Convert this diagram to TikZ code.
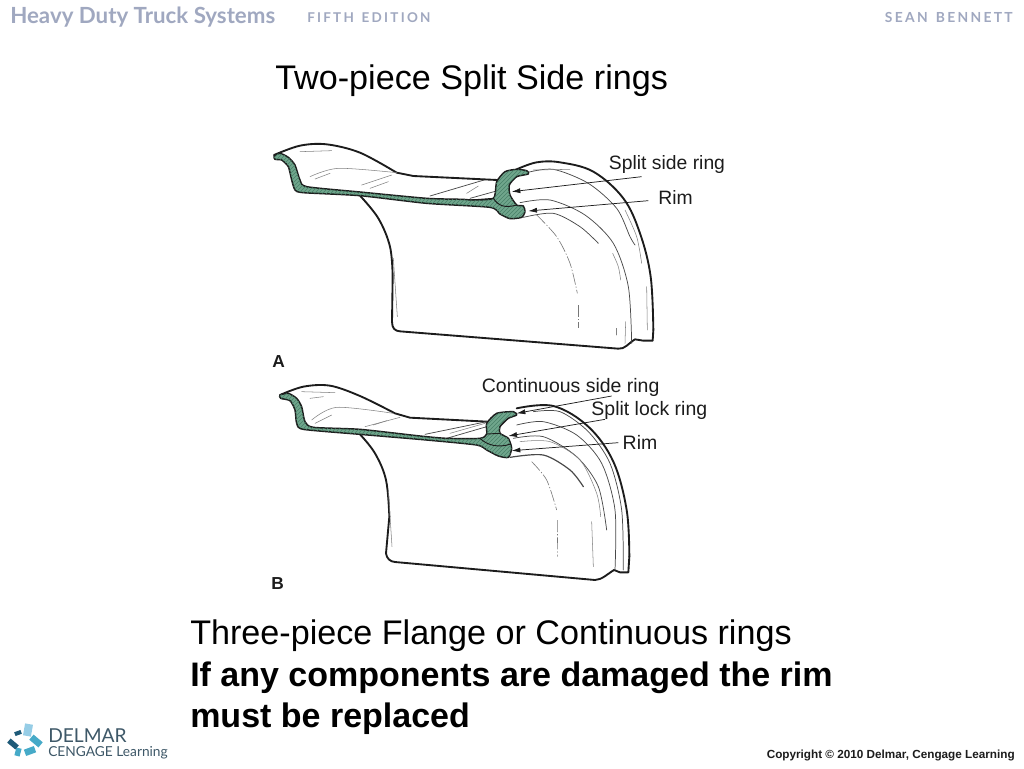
\documentclass[tikz,border=0pt]{standalone}
\usepackage{fontspec}
\setmainfont{Liberation Sans}
\newfontfamily\headfont{Lato}
\usetikzlibrary{patterns,arrows.meta}
\definecolor{secgreen}{RGB}{112,166,140}
\definecolor{hatchgreen}{RGB}{72,128,104}
\definecolor{inkline}{RGB}{28,28,28}
\definecolor{headblue}{RGB}{160,168,192}
\definecolor{logotext}{RGB}{62,88,104}
\definecolor{logoa}{RGB}{150,205,230}
\definecolor{logob}{RGB}{70,170,200}
\definecolor{logoc}{RGB}{30,90,120}
\tikzset{
  slidetext/.style={anchor=base west,inner sep=0pt,font=\fontsize{25.6}{28}\selectfont,text=black},
  headtext/.style={anchor=base west,inner sep=0pt,text=headblue},
  calltext/.style={anchor=center,inner sep=0pt,font=\fontsize{11}{13}\selectfont,text=inkline},
  partlabel/.style={anchor=center,inner sep=0pt,font=\bfseries\fontsize{10.5}{12}\selectfont,text=inkline},
  outline/.style={draw=inkline,line width=1.4pt,line join=round,line cap=round},
  fineline/.style={draw=inkline!80,line width=0.55pt,line cap=round},
  faintline/.style={draw=inkline!55,line width=0.4pt,line cap=round},
  dashline/.style={draw=inkline!60,line width=0.45pt,dash pattern=on 9pt off 1.5pt on 1pt off 1.5pt},
  section/.style={draw=inkline,line width=1.1pt,line join=round,fill=secgreen,
     postaction={pattern=north east lines,pattern color=hatchgreen}},
  leader/.style={draw=inkline,line width=0.55pt,-{Latex[length=6.5pt,width=3.8pt]}},
  logotile/.style={minimum width=6.5pt,minimum height=4pt,inner sep=0pt,rotate=#1}
}
\begin{document}
\begin{tikzpicture}[x=0.75pt,y=-0.75pt]
\useasboundingbox (0,0) rectangle (1024,768);
\fill[white] (0,0) rectangle (1024,768);
% header
\node[headtext,font=\headfont\bfseries\fontsize{16.7}{18}\selectfont] (booktitle) at (10,23) {Heavy Duty Truck Systems};
\node[headtext,font=\headfont\bfseries\fontsize{10.1}{11}\selectfont] (edition) at (307,22) {F\,I\,F\,T\,H\, \,E\,D\,I\,T\,I\,O\,N};
\node[headtext,font=\headfont\bfseries\fontsize{10.4}{11}\selectfont,anchor=base east] (author) at (1013,22) {S\,E\,A\,N\, \,B\,E\,N\,N\,E\,T\,T};
% slide text
\node[slidetext] (title) at (275,89) {Two-piece Split Side rings};
\node[slidetext] (capone) at (190,644) {Three-piece Flange or Continuous rings};
\node[slidetext,font=\bfseries\fontsize{25.5}{28}\selectfont] (captwo) at (190,686) {If any components are damaged the rim};
\node[slidetext,font=\bfseries\fontsize{25.5}{28}\selectfont] (capthree) at (190,727) {must be replaced};

% ---------- Diagram A
\begin{scope}[shift={(260,130)},x=0.25pt,y=-0.25pt]
  \draw[outline] plot[smooth,tension=0.55] coordinates {(42,75) (120,47) (200,43) (300,68) (410,128)} -- (460,138) -- (712,150);
  \draw[outline] plot[smooth,tension=0.6] coordinates {(300,197) (355,265) (390,350) (398,440)} -- (396,575)
     .. controls (396,595) and (405,603) .. (420,604) -- (1075,656) .. controls (1095,658) and (1105,640) .. (1125,628)
     -- (1150,632) -- (1178,632) -- (1180,600);
  \draw[outline] plot[smooth,tension=0.6] coordinates {(1180,600) (1172,440) (1140,310) (1090,205) (1000,125) (900,97) (830,97) (770,118)};
  % inner lines
  \draw[fineline] plot[smooth] coordinates {(800,128) (880,118) (985,160) (1070,235) (1110,320) (1125,345)};
  \draw[fineline] plot[smooth] coordinates {(780,218) (870,210) (975,255) (1060,340) (1105,470) (1115,640)};
  \draw[fineline] plot[smooth] coordinates {(790,262) (880,250) (960,290) (1015,340)};
  \draw[dashline] plot[smooth] coordinates {(830,255) (890,320) (930,400) (952,490)};
  \draw[dashline] (955,525) -- (955,595);
  \draw[faintline] plot[smooth] coordinates {(1058,370) (1075,410) (1082,450)};
  \draw[faintline] (1097,575) -- (1095,640);
  \draw[faintline] (1070,595) -- (1070,615);
  \draw[faintline] (1160,470) -- (1162,600);
  \draw[faintline] plot[smooth] coordinates {(1095,240) (1130,320) (1145,400)};
  \draw[faintline] (400,385) -- (412,560);
  \draw[faintline] plot[smooth] coordinates {(150,140) (235,115) (410,128)};
  \draw[faintline] (165,147) -- (210,130);
  \draw[faintline] (120,65) -- (215,62);
  \draw[faintline] (305,165) -- (395,135);
  \draw[faintline] (330,175) -- (385,155);
  \draw[fineline] (510,198) -- (672,150);
  \draw[fineline] (630,205) -- (720,180);
  \draw[faintline] (620,190) -- (655,168);
  \draw[faintline] (820,120) -- (930,118);
  % green section
  \path[section] plot[smooth cycle,tension=0.38] coordinates {(42,78) (60,70) (85,82) (105,105) (120,150) (140,170) (300,186) (500,205) (610,208) (632,210) (700,205) (710,155) (735,125) (770,118) (800,122) (805,132) (770,140) (748,165) (750,195) (770,225) (790,228) (795,245) (785,262) (750,266) (720,252) (690,232) (500,220) (300,197) (130,188) (105,180) (95,150) (85,110) (65,90) (45,88)};
  \draw[draw=inkline,line width=0.7pt] (632,210) -- (700,205) .. controls (715,228) and (735,235) .. (770,225);
  % labels and leaders
  \node[calltext,font=\fontsize{14.5}{16}\selectfont] (asplit) at (1221,103) {Split side ring};
  \node[calltext,font=\fontsize{14.5}{16}\selectfont] (arim) at (1247,203) {Rim};
  \node[partlabel,font=\bfseries\fontsize{13}{14}\selectfont] (aletter) at (56,696) {A};
  \coordinate (asplitfrom) at (1145,140);
  \coordinate (asplitto) at (755,185);
  \coordinate (arimfrom) at (1165,212);
  \coordinate (arimto) at (805,243);
  \draw[leader] (asplitfrom) -- (asplitto);
  \draw[leader] (arimfrom) -- (arimto);
\end{scope}

% ---------- Diagram B
\begin{scope}[shift={(260,370)},x=0.25pt,y=-0.25pt]
  \draw[outline] plot[smooth,tension=0.55] coordinates {(60,75) (130,50) (210,47) (300,78) (405,130)} -- (450,143) -- (682,155);
  \draw[outline] plot[smooth,tension=0.6] coordinates {(300,193) (345,250) (378,330) (388,440)} -- (378,550)
     .. controls (380,565) and (390,575) .. (405,576) -- (1005,630) .. controls (1025,630) and (1045,610) .. (1062,600)
     -- (1080,607) -- (1105,607) -- (1108,560);
  \draw[outline] plot[smooth,tension=0.6] coordinates {(1108,560) (1100,420) (1060,275) (985,170) (880,108) (770,115)};
  \draw[fineline] plot[smooth] coordinates {(820,125) (900,125) (985,185) (1050,280) (1085,420) (1090,600)};
  \draw[fineline] plot[smooth] coordinates {(770,165) (850,155) (950,195) (1025,280) (1065,420) (1065,600)};
  \draw[fineline] plot[smooth] coordinates {(760,205) (850,200) (950,260) (1015,350) (1040,480)};
  \draw[fineline,line width=0.9pt] plot[smooth] coordinates {(750,262) (850,255) (930,300) (970,350)};
  \draw[faintline] plot[smooth] coordinates {(780,215) (870,215) (960,270) (1010,370) (1022,440)};
  \draw[dashline] plot[smooth] coordinates {(815,275) (860,330) (890,420)};
  \draw[dashline] (892,450) -- (893,560);
  \draw[faintline] (995,455) -- (1000,590);
  \draw[faintline] (385,360) -- (396,530);
  \draw[faintline] plot[smooth] coordinates {(155,150) (230,112) (400,130)};
  \draw[faintline] (165,160) -- (215,135);
  \draw[faintline] (125,65) -- (225,68);
  \draw[faintline] (150,85) -- (190,80);
  \draw[faintline] (315,170) -- (420,142);
  \draw[faintline] (340,165) -- (380,152);
  \draw[fineline] (495,193) -- (680,155);
  \draw[fineline] (560,205) -- (680,170);
  \draw[faintline] (570,190) -- (675,160);
  \path[section] plot[smooth cycle,tension=0.38] coordinates {(60,75) (85,70) (110,85) (125,110) (135,155) (160,172) (300,178) (480,198) (560,205) (660,205) (680,192) (680,160) (710,130) (760,125) (770,135) (745,145) (720,170) (720,190) (745,205) (755,235) (745,262) (715,258) (680,240) (650,225) (500,210) (300,193) (130,178) (110,160) (105,120) (90,92) (62,85)};
  \draw[draw=inkline,line width=0.7pt] (660,205) .. controls (680,225) and (715,235) .. (752,222);
  \draw[draw=inkline,line width=0.7pt] (680,192) -- (720,190);
  \node[calltext,font=\fontsize{14.6}{16}\selectfont] (bcont) at (932,53) {Continuous side ring};
  \node[calltext,font=\fontsize{14.6}{16}\selectfont] (block) at (1168,122) {Split lock ring};
  \node[calltext,font=\fontsize{14.6}{16}\selectfont] (brim) at (1140,216) {Rim};
  \node[partlabel,font=\bfseries\fontsize{13}{14}\selectfont] (bletter) at (53,640) {B};
  \coordinate (bcontfrom) at (1055,78);
  \coordinate (bcontto) at (770,130);
  \coordinate (blockfrom) at (1035,148);
  \coordinate (blockto) at (745,198);
  \coordinate (brimfrom) at (1075,218);
  \coordinate (brimto) at (755,242);
  \draw[leader] (bcontfrom) -- (bcontto);
  \draw[leader] (blockfrom) -- (blockto);
  \draw[leader] (brimfrom) -- (brimto);
\end{scope}

% logo
\node[logotile=80,fill=logoa,minimum width=9pt,minimum height=6pt] (tilea) at (28,730) {};
\node[logotile=-40,fill=logob,minimum width=9pt,minimum height=5pt] (tileb) at (36,741) {};
\node[logotile=20,fill=logob,minimum width=8pt,minimum height=5pt] (tilec) at (30,751) {};
\node[logotile=75,fill=logob,minimum width=6pt,minimum height=4pt] (tiled) at (18,752) {};
\node[logotile=-40,fill=logoc,minimum width=8pt,minimum height=4pt] (tilee) at (13,744) {};
\node[logotile=20,fill=logoc,minimum width=5pt,minimum height=3pt] (tilef) at (18,733) {};
\node[headtext,text=logotext,font=\headfont\fontsize{14.4}{16}\selectfont] (delmar) at (48,742) {DELMAR};
\node[headtext,text=logotext,font=\headfont\fontsize{10.3}{12}\selectfont] (cengage) at (48,756) {CENGAGE Learning};
% copyright
\node[anchor=base east,inner sep=0pt,font=\bfseries\fontsize{8.8}{10}\selectfont,text=inkline] (copyright) at (1015,758) {Copyright © 2010 Delmar, Cengage Learning};
\end{tikzpicture}
\end{document}
